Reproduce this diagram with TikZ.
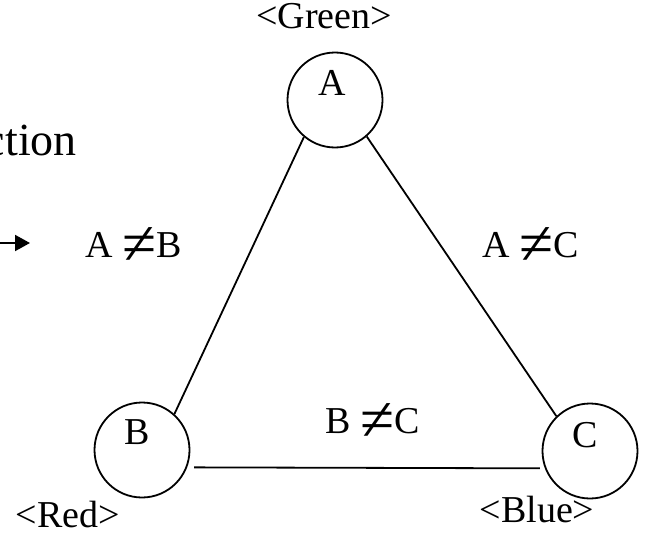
\documentclass[tikz,border=0pt]{standalone}
\usepackage{fontspec}
\setmainfont{Liberation Serif}
\usetikzlibrary{arrows.meta}
\newcommand{\bigneq}{\raisebox{-7pt}{\fontsize{62}{62}\selectfont ≠}}
\begin{document}
\begin{tikzpicture}[x=1pt,y=-1pt,
  vtx/.style={draw, circle, line width=1.8pt, minimum size=95pt, inner sep=0pt},
  vlab/.style={font=\fontsize{38}{40}\selectfont},
  txt/.style={font=\fontsize{38}{40}\selectfont, inner sep=0pt, anchor=base},
  edge/.style={line width=1.8pt}]
\useasboundingbox (0,0) rectangle (647,535);
\node[vtx, label={[vlab, xshift=-3pt, yshift=17pt]center:A}] (A) at (335,100) {};
\node[vtx, label={[vlab, xshift=-5pt, yshift=18pt]center:B}] (B) at (142,450) {};
\node[vtx, label={[vlab, xshift=-5pt, yshift=16pt]center:C}] (C) at (590,451) {};
\draw[edge] (A.230) -- (B.48);
\draw[edge] (A.-49) -- (C.134);
\draw[edge, shorten <=7pt, shorten >=5pt] (B.-21) -- (C.-159);
\node[txt] (g) at (324,29) {<Green>};
\node[txt] (r) at (68,527) {<Red>};
\node[txt] (bl) at (537,522) {<Blue>};
\node[txt] (ab) at (134,257) {A \bigneq B};
\node[txt] (ac) at (531,257) {A \bigneq C};
\node[txt] (bc) at (373,433) {B \bigneq C};
\node[txt, anchor=base east, font=\fontsize{46}{50}\selectfont] (ct) at (77,155) {ction};
\coordinate (a0) at (0,243);
\coordinate (a1) at (30,243);
\draw[line width=2pt, -{Triangle[length=15pt,width=16pt]}] (a0) -- (a1);
\end{tikzpicture}
\end{document}
